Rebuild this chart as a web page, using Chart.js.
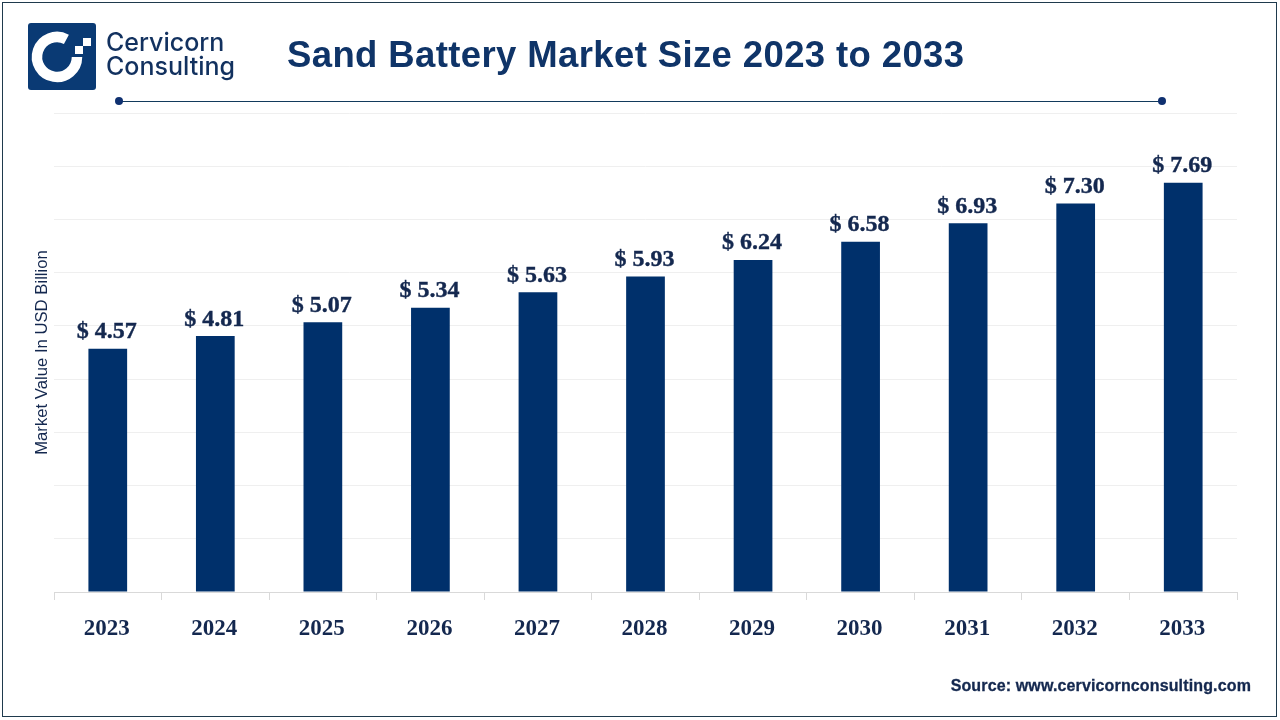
<!DOCTYPE html>
<html>
<head>
    <meta charset="utf-8">
    <title>Sand Battery Market Size 2023 to 2033</title>
    <style>
        body {
            margin: 0;
            padding: 0;
            background: #fff;
        }

        .page {
            position: relative;
            width: 1280px;
            height: 720px;
            overflow: hidden;
            background: #fff;
        }

        .frame {
            position: absolute;
            left: 2px;
            top: 2px;
            width: 1273px;
            height: 713px;
            border: 1px solid #1f3a4d;
        }

        #chart {
            position: absolute;
            left: 0;
            top: 0;
        }

        .logo {
            position: absolute;
            left: 28px;
            top: 23px;
        }

        .brand {
            position: absolute;
            left: 106px;
            color: #12315f;
            font: 500 25px/25px Inter, sans-serif;
            white-space: nowrap;
        }

        .title {
            position: absolute;
            left: 287px;
            top: 33px;
            color: #0f3468;
            font: bold 36.5px/44px "Liberation Sans", sans-serif;
            letter-spacing: 0.38px;
            white-space: nowrap;
        }

        .rule {
            position: absolute;
            left: 119px;
            top: 100.5px;
            width: 1043px;
            height: 1.5px;
            background: #123a5c;
        }

        .dot {
            position: absolute;
            top: 97px;
            width: 8px;
            height: 8px;
            border-radius: 50%;
            background: #0f3070;
        }

        .source {
            position: absolute;
            right: 29px;
            top: 676px;
            color: #14284f;
            font: bold 16px/20px "Liberation Sans", sans-serif;
            letter-spacing: 0.14px;
            -webkit-text-stroke: 0.3px #14284f;
            white-space: nowrap;
        }
    </style>
    <script src="https://cdn.jsdelivr.net/npm/chart.js@4/dist/chart.umd.min.js"></script>
</head>
<body>
    <div class="page">
        <canvas id="chart" width="1280" height="720"></canvas>
        <div class="frame"></div>

        <svg class="logo" width="68" height="67" viewBox="0 0 68 67">
            <rect width="68" height="67" rx="3" fill="#0a3a74"/>
            <path d="M 38.4 16.3 A 20 20 0 1 0 49 34" fill="none" stroke="#fff" stroke-width="10.5"/>
            <rect x="47" y="23" width="8" height="8" fill="#fff"/>
            <rect x="55" y="15" width="8" height="8" fill="#fff"/>
        </svg>
        <div class="brand" style="top: 30px;">Cervicorn</div>
        <div class="brand" style="top: 54px;">Consulting</div>

        <div class="title">Sand Battery Market Size 2023 to 2033</div>
        <div class="rule"></div>
        <div class="dot" style="left: 115px;"></div>
        <div class="dot" style="left: 1158px;"></div>

        <div class="source">Source: www.cervicornconsulting.com</div>
    </div>

    <script>
    const categories = ['2023', '2024', '2025', '2026', '2027', '2028', '2029', '2030', '2031', '2032', '2033'];
    const marketValues = [4.57, 4.81, 5.07, 5.34, 5.63, 5.93, 6.24, 6.58, 6.93, 7.30, 7.69];
    const axisMax = 9;
    const axisStep = 1;

    // Draws the "$ 4.57" text above each bar
    const valueLabels = {
      id: 'valueLabels',
      afterDatasetsDraw(chart) {
        const ctx = chart.ctx;
        const bars = chart.getDatasetMeta(0).data;
        ctx.save();
        ctx.fillStyle = '#14284f';
        ctx.strokeStyle = '#14284f';
        ctx.lineWidth = 0.4;
        ctx.font = 'bold 24px "Liberation Serif", serif';
        ctx.textAlign = 'center';
        ctx.textBaseline = 'alphabetic';
        bars.forEach((bar, i) => {
          const text = '$ ' + marketValues[i].toFixed(2);
          ctx.fillText(text, bar.x - 1, bar.y - 10.5);
          ctx.strokeText(text, bar.x - 1, bar.y - 10.5);
        });
        ctx.restore();
      }
    };

    new Chart(document.getElementById('chart').getContext('2d'), {
      type: 'bar',
      data: {
        labels: categories,
        datasets: [{
          data: marketValues,
          backgroundColor: '#00306b',
          barPercentage: 0.36,
          categoryPercentage: 1
        }]
      },
      options: {
        responsive: false,
        animation: false,
        layout: { padding: { top: 113, right: 43, left: 0, bottom: 0 } },
        plugins: { legend: { display: false }, tooltip: { enabled: false } },
        scales: {
          x: {
            afterFit: (scale) => { scale.height = 128; },
            border: { color: '#d9d9d9', width: 1 },
            grid: { offset: true, drawOnChartArea: false, color: '#d9d9d9', tickLength: 8 },
            ticks: {
              color: '#14284f',
              padding: 15,
              labelOffset: -1,
              maxRotation: 0,
              font: { family: '"Liberation Serif", serif', size: 23, weight: 'bold' }
            }
          },
          y: {
            min: 0,
            max: axisMax,
            afterFit: (scale) => { scale.width = 54; },
            border: { display: false },
            grid: { color: '#efefef', drawTicks: false },
            ticks: { display: false, stepSize: axisStep },
            title: {
              display: true,
              text: 'Market Value In USD Billion',
              color: '#14284f',
              padding: { top: 32, bottom: 0 },
              font: { family: '"Liberation Sans Narrow", "Liberation Sans", sans-serif', size: 16.7 }
            }
          }
        }
      },
      plugins: [valueLabels]
    });
    </script>
</body>
</html>
